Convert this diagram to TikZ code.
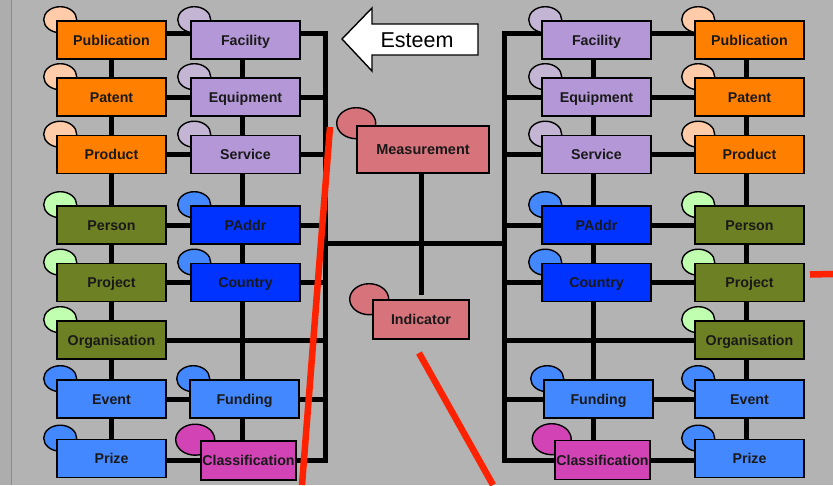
\documentclass[tikz,border=0pt]{standalone}
\usepackage{fontspec}
\setmainfont{Liberation Sans}
\usepackage{xcolor}
\usepackage{tikz}
\usetikzlibrary{shapes.geometric}

\definecolor{paper}{HTML}{B3B3B3}
\definecolor{paperedge}{HTML}{ADADAD}
\definecolor{orangebox}{HTML}{FF8000}
\definecolor{peach}{HTML}{FFCBA8}
\definecolor{lavbox}{HTML}{B497D6}
\definecolor{lavbub}{HTML}{C5B5D5}
\definecolor{olivebox}{HTML}{6E8024}
\definecolor{mint}{HTML}{C0FFB0}
\definecolor{deepblue}{HTML}{0033FF}
\definecolor{skyblue}{HTML}{4488FF}
\definecolor{magbox}{HTML}{D244B5}
\definecolor{rosebox}{HTML}{D6737B}
\definecolor{redmark}{HTML}{FF2200}

\pgfdeclarelayer{paperlayer}
\pgfdeclarelayer{wires}
\pgfdeclarelayer{bubbles}
\pgfsetlayers{paperlayer,wires,bubbles,main}

\begin{document}
\begin{tikzpicture}[
  x=1pt, y=-1pt,
  ent/.style={draw=black, line width=1.6pt, minimum width=109pt,
              minimum height=38pt, inner sep=0pt, text=black!90,
              text height=10pt, text depth=0pt,
              font=\fontsize{14.2}{16}\selectfont\bfseries},
  bub/.style={draw=black, line width=1.4pt, ellipse, inner sep=0pt,
              minimum width=33pt, minimum height=26pt},
  bigbub/.style={bub, minimum width=39pt, minimum height=31pt},
  wire/.style={line width=5pt, black},
  strike/.style={line width=6.5pt, redmark}]

\useasboundingbox (0,0) rectangle (833,485);
\begin{pgfonlayer}{paperlayer}
  \fill[paper] (0,0) rectangle (833,485);
  \fill[paperedge] (0,0) rectangle (11,485);
  \draw[black!22!paper, line width=1pt] (11,0) -- (11,485);
\end{pgfonlayer}

%% ---- bloque izquierdo ----
\node[ent, fill=orangebox] (lpub) at (111.5,40)    {Publication};
\node[ent, fill=lavbox]    (lfac) at (245.5,40)    {Facility};
\node[ent, fill=orangebox] (lpat) at (111.5,97)    {Patent};
\node[ent, fill=lavbox]    (lequ) at (245.5,97)    {Equipment};
\node[ent, fill=orangebox] (lpro) at (111.5,154.5) {Product};
\node[ent, fill=lavbox]    (lser) at (245.5,154.5) {Service};
\node[ent, fill=olivebox]  (lper) at (111.5,225)   {Person};
\node[ent, fill=deepblue]  (lpad) at (245.5,225)   {PAddr};
\node[ent, fill=olivebox]  (lprj) at (111.5,282.5) {Project};
\node[ent, fill=deepblue]  (lcou) at (245.5,282.5) {Country};
\node[ent, fill=olivebox]  (lorg) at (111.5,340)   {Organisation};
\node[ent, fill=skyblue]   (leve) at (111.5,399)   {Event};
\node[ent, fill=skyblue]   (lfun) at (244.5,399)   {Funding};
\node[ent, fill=skyblue]   (lpri) at (111.5,458.5) {Prize};
\node[ent, fill=magbox, minimum width=95pt, minimum height=39pt]
  (lcla) at (248.5,460.5) {Classification};

%% ---- centro ----
\node[ent, fill=rosebox, minimum width=132pt, minimum height=47pt,
      font=\fontsize{14.5}{16}\selectfont\bfseries]
  (mea) at (423,149.5) {Measurement};
\node[ent, fill=rosebox, minimum width=96pt, minimum height=39pt]
  (ind) at (421,319.5) {Indicator};

%% ---- bloque derecho (espejo) ----
\node[ent, fill=lavbox]    (rfac) at (596.5,40)    {Facility};
\node[ent, fill=orangebox] (rpub) at (749.5,40)    {Publication};
\node[ent, fill=lavbox]    (requ) at (596.5,97)    {Equipment};
\node[ent, fill=orangebox] (rpat) at (749.5,97)    {Patent};
\node[ent, fill=lavbox]    (rser) at (596.5,154.5) {Service};
\node[ent, fill=orangebox] (rpro) at (749.5,154.5) {Product};
\node[ent, fill=deepblue]  (rpad) at (596.5,225)   {PAddr};
\node[ent, fill=olivebox]  (rper) at (749.5,225)   {Person};
\node[ent, fill=deepblue]  (rcou) at (596.5,282.5) {Country};
\node[ent, fill=olivebox]  (rprj) at (749.5,282.5) {Project};
\node[ent, fill=olivebox]  (rorg) at (749.5,340)   {Organisation};
\node[ent, fill=skyblue]   (rfun) at (598.5,399)   {Funding};
\node[ent, fill=skyblue]   (reve) at (749.5,399)   {Event};
\node[ent, fill=magbox, minimum width=95pt, minimum height=39pt]
  (rcla) at (602.5,460) {Classification};
\node[ent, fill=skyblue]   (rpri) at (749.5,458.5) {Prize};

%% ---- flecha Esteem ----
\draw[fill=white, line width=1.4pt]
  (342,39) -- (372,8) -- (372,24) -- (478,24) -- (478,55)
  -- (372,55) -- (372,71) -- cycle;
\node[font=\fontsize{21.5}{24}\selectfont] (est) at (417,40) {Esteem};

%% ---- burbujas detras de las cajas ----
\begin{pgfonlayer}{bubbles}
  \foreach \n/\c in {lpub/peach, lpat/peach, lpro/peach,
                     lfac/lavbub, lequ/lavbub, lser/lavbub,
                     lper/mint, lprj/mint, lorg/mint,
                     lpad/skyblue, lcou/skyblue, leve/skyblue,
                     lfun/skyblue, lpri/skyblue,
                     rpub/peach, rpat/peach, rpro/peach,
                     rfac/lavbub, requ/lavbub, rser/lavbub,
                     rper/mint, rprj/mint, rorg/mint,
                     rpad/skyblue, rcou/skyblue, reve/skyblue,
                     rfun/skyblue, rpri/skyblue}
    \node[bub, fill=\c] at ([shift={(4,-0.5)}]\n.north west) {};
  \node[bigbub, fill=magbox]  at ([shift={(-5,-0.5)}]lcla.north west) {};
  \node[bigbub, fill=magbox]  at ([shift={(-2.5,-0.5)}]rcla.north west) {};
  \node[bigbub, fill=rosebox] at ([shift={(0,-2)}]mea.north west) {};
  \node[bigbub, fill=rosebox] at ([shift={(-3,0)}]ind.north west) {};
\end{pgfonlayer}

%% ---- cableado ----
\coordinate (lbus) at (325,0);
\coordinate (rbus) at (504,0);
\coordinate (hub) at (421,243);
\begin{pgfonlayer}{wires}
  % columnas
  \draw[wire] (lpub.center) -- (lpri.center);
  \draw[wire] ([xshift=-3.5pt]lfac.center) -- ([xshift=-3.5pt]lfac.center |- lcla.center);
  \draw[wire] ([xshift=-3.5pt]rfac.center) -- ([xshift=-3.5pt]rfac.center |- rcla.center);
  \draw[wire] ([xshift=-3.5pt]rpub.center) -- ([xshift=-3.5pt]rpub.center |- rpri.center);
  % filas izquierda
  \draw[wire] ([yshift=7pt]lpub.east) -- ([yshift=7pt]lfac.west);
  \draw[wire] (lpat.east) -- (lequ.west);
  \draw[wire] (lpro.east) -- (lser.west);
  \draw[wire] (lper.east) -- (lpad.west);
  \draw[wire] (lprj.east) -- (lcou.west);
  \draw[wire] (leve.east) -- (lfun.west);
  \draw[wire] (lcla.west) -- (lcla.west -| lpri.east);
  % bus izquierdo
  \draw[wire] ([yshift=7pt]lfac.east) -| (lbus |- lcla.east) -- (lcla.east);
  \foreach \n in {lequ, lser, lpad, lcou, lorg, lfun}
    \draw[wire] (\n.east) -- (\n.east -| lbus);
  % filas derecha
  \draw[wire] ([yshift=7pt]rfac.east) -- ([yshift=7pt]rpub.west);
  \draw[wire] (requ.east) -- (rpat.west);
  \draw[wire] (rser.east) -- (rpro.west);
  \draw[wire] (rpad.east) -- (rper.west);
  \draw[wire] (rcou.east) -- (rprj.west);
  \draw[wire] (rfun.east) -- (reve.west);
  \draw[wire] (rcla.east) -- (rcla.east -| rpri.west);
  % bus derecho
  \draw[wire] ([yshift=7pt]rfac.west) -| (rbus |- rcla.west) -- (rcla.west);
  \foreach \n in {requ, rser, rpad, rcou, rorg, rfun}
    \draw[wire] (\n.west) -- (\n.west -| rbus);
  % puente central
  \draw[wire] (hub -| lbus) -- (hub -| rbus);
  \draw[wire] (mea.south -| ind.north) -- ([yshift=4pt]ind.north);
\end{pgfonlayer}

%% ---- tachones rojos ----
\draw[strike] (330,127) -- (302,485);
\draw[strike] (419,353) -- (493,485);
\draw[strike] (810,274.5) -- (833,274);
\end{tikzpicture}
\end{document}
